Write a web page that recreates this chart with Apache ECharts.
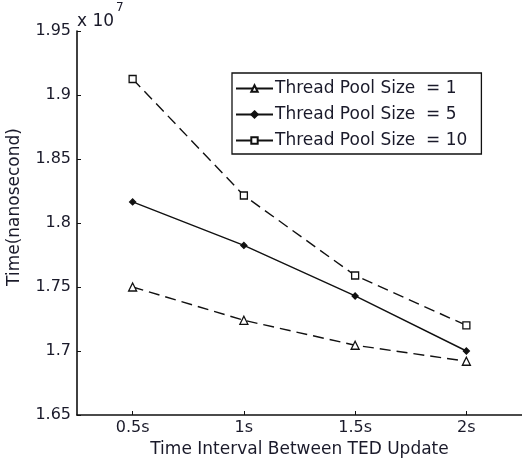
<!DOCTYPE html>
<html><head><meta charset="utf-8">
<script src="https://cdn.jsdelivr.net/npm/echarts@6/dist/echarts.min.js"></script>
<style>html,body{margin:0;padding:0;background:#fff}#c{width:522px;height:465px}</style>
</head><body><div id="c"></div>
<script>
const categories = ['0.5s', '1s', '1.5s', '2s'];
const pool1 = [17500000, 17240000, 17045000, 16920000];
const pool5 = [18165000, 17825000, 17430000, 17000000];
const pool10 = [19125000, 18215000, 17590000, 17200000];
const seriesNames = ['Thread Pool Size  = 1', 'Thread Pool Size  = 5', 'Thread Pool Size  = 10'];
const yMin = 16500000, yMax = 19500000, yStep = 500000;

const chart = echarts.init(document.getElementById('c'), null, {renderer: 'canvas'});
const font = 'DejaVu Sans, sans-serif';
const black = '#111';
const txt = '#1a1a2a';
function mk(name, data, symbol, size, fill, dashed) {
  return {
    name, type: 'line', data, symbol, symbolSize: size,
    itemStyle: {color: fill, borderColor: black, borderWidth: 1.3},
    lineStyle: {color: black, width: 1.4, type: dashed ? [11, 6] : 'solid'},
    animation: false
  };
}
chart.setOption({
  backgroundColor: '#fff',
  animation: false,
  grid: {left: 77, right: -2, top: 31, bottom: 50, containLabel: false},
  xAxis: {
    type: 'category', data: categories, boundaryGap: true,
    axisLine: {lineStyle: {color: black, width: 1.6}},
    axisTick: {show: true, inside: true, alignWithLabel: true, length: 4, lineStyle: {color: black}},
    axisLabel: {color: txt, fontSize: 16, fontFamily: font, margin: 5},
    name: 'Time Interval Between TED Update', nameLocation: 'middle', nameGap: 26,
    nameTextStyle: {color: txt, fontSize: 17, fontFamily: font},
    splitLine: {show: false}
  },
  yAxis: {
    type: 'value', min: yMin, max: yMax, interval: yStep,
    axisLine: {show: true, lineStyle: {color: black, width: 1.6}},
    axisTick: {show: true, inside: true, length: 4, lineStyle: {color: black}},
    axisLabel: {color: txt, fontSize: 16, fontFamily: font, margin: 6,
      formatter: v => String(+(v / 1e7).toFixed(2))},
    splitLine: {show: false}
  },
  legend: {
    orient: 'vertical', left: 232, top: 73,
    padding: [7, 14, 5, 3], itemGap: 9, itemWidth: 37, itemHeight: 8,
    borderColor: black, borderWidth: 1.3, backgroundColor: '#fff',
    lineStyle: {type: 'solid'},
    textStyle: {color: txt, fontSize: 17, fontFamily: font, padding: [0, 0, 0, -3]},
    data: seriesNames
  },
  graphic: [{
    type: 'text', left: 77, top: 2,
    style: {
      text: '{a|x 10}{b|7}',
      rich: {
        a: {fontSize: 17, fontFamily: font, fill: txt, padding: [11, 0, 0, 0]},
        b: {fontSize: 12, fontFamily: font, fill: txt, verticalAlign: 'top', padding: [0, 0, 10, 2]}
      }
    }
  }, {
    type: 'text', x: 15, y: 207, rotation: Math.PI / 2,
    style: {text: 'Time(nanosecond)', fontSize: 17, fontFamily: font, fill: txt,
      align: 'center', verticalAlign: 'middle'}
  }],
  series: [
    mk(seriesNames[0], pool1, 'triangle', 8, '#fff', true),
    mk(seriesNames[1], pool5, 'diamond', 6, black, false),
    mk(seriesNames[2], pool10, 'rect', 7, '#fff', true)
  ]
});
</script></body></html>
